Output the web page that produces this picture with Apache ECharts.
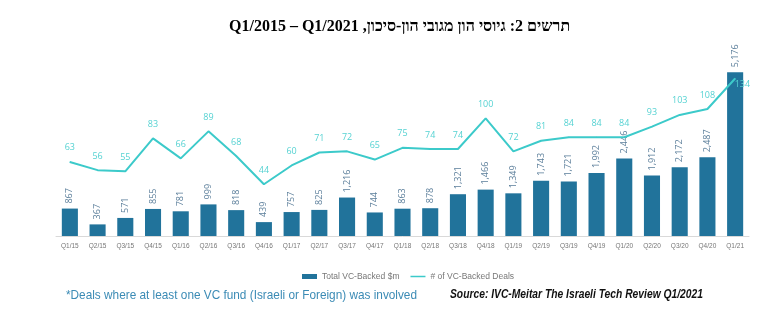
<!DOCTYPE html>
<html><head><meta charset="utf-8">
<script src="https://cdn.jsdelivr.net/npm/echarts@6/dist/echarts.min.js"></script>
<style>html,body{margin:0;padding:0;background:#fff}#c{width:768px;height:323px}</style>
</head><body><div id="c"></div>
<script>
var categories = ['Q1/15','Q2/15','Q3/15','Q4/15','Q1/16','Q2/16','Q3/16','Q4/16','Q1/17','Q2/17','Q3/17','Q4/17','Q1/18','Q2/18','Q3/18','Q4/18','Q1/19','Q2/19','Q3/19','Q4/19','Q1/20','Q2/20','Q3/20','Q4/20','Q1/21'];
var totalBacked = [867,367,571,855,781,999,818,439,757,825,1216,744,863,878,1321,1466,1349,1743,1721,1992,2446,1912,2172,2487,5176];
var dealCount = [63,56,55,83,66,89,68,44,60,71,72,65,75,74,74,100,72,81,84,84,84,93,103,108,134];
var titleText = 'תרשים 2: גיוסי הון מגובי הון-סיכון, Q1/2015 – Q1/2021';
var noteText = '*Deals where at least one VC fund (Israeli or Foreign) was involved';
var sourceText = 'Source: IVC-Meitar The Israeli Tech Review Q1/2021';

var ctx = document.createElement('canvas').getContext('2d');
function fitScale(text, font, target){ ctx.font = font; return target / ctx.measureText(text).width; }
var noteFont = '13px "Liberation Sans", sans-serif';
var srcFont = 'italic bold 12px "Liberation Sans", sans-serif';
var noteScale = fitScale(noteText, noteFont, 351);
var srcScale = fitScale(sourceText, srcFont, 253);

var chart = echarts.init(document.getElementById('c'), null, {renderer:'canvas'});
var lineData = dealCount.map(function(v,i){
  if (i === dealCount.length-1) return {value:v, label:{position:'right', offset:[-10,6]}};
  return v;
});
chart.setOption({
  animation:false,
  title:{
    text:'\u202B' + titleText + '\u202C',
    left:224, top:14,
    textStyle:{fontFamily:'Liberation Serif', fontWeight:'bold', fontSize:16, color:'#000'}
  },
  legend:{
    top:267, left:297, itemGap:11, itemWidth:15, itemHeight:5,
    textStyle:{fontSize:8.5, color:'#777', fontFamily:'Liberation Sans'},
    data:[{name:'Total VC-Backed $m', icon:'rect'},
          {name:'# of VC-Backed Deals', icon:'path://M0,0 L100,0 L100,10 L0,10 Z'}]
  },
  grid:{left:56, right:19, top:62, bottom:87, containLabel:false},
  xAxis:{
    type:'category', data:categories,
    axisLine:{lineStyle:{color:'#d9d9d9', width:1}},
    axisTick:{show:false},
    axisLabel:{fontSize:6.5, color:'#777', margin:7, interval:0}
  },
  yAxis:[
    {type:'value', min:0, max:5500, show:false, splitLine:{show:false}},
    {type:'value', min:0, max:148, show:false, splitLine:{show:false}}
  ],
  series:[
    {name:'Total VC-Backed $m', type:'bar', data:totalBacked, barWidth:'58%', yAxisIndex:0,
     itemStyle:{color:'#21739b'},
     label:{show:true, position:'top', rotate:90, align:'left', verticalAlign:'middle', distance:5,
       fontSize:9, color:'#5c7f9b', fontFamily:'Open Sans',
       formatter:function(p){return p.value.toLocaleString('en-US');}}
    },
    {name:'# of VC-Backed Deals', type:'line', data:lineData, yAxisIndex:1,
     showSymbol:true, symbol:'circle', symbolSize:1,
     lineStyle:{color:'#3ccaca', width:2}, itemStyle:{color:'#3ccaca'},
     label:{show:true, position:'top', distance:9, fontSize:9, color:'#55d2d2', fontFamily:'Open Sans'}
    }
  ],
  graphic:[
    {type:'text', x:66, y:295, scaleX:noteScale,
     style:{text:noteText, fill:'#3b8bb5', font:noteFont, verticalAlign:'middle', textVerticalAlign:'middle'}},
    {type:'text', x:450, y:295, scaleX:srcScale,
     style:{text:sourceText, fill:'#111', font:srcFont, verticalAlign:'middle', textVerticalAlign:'middle'}}
  ]
});
</script></body></html>
